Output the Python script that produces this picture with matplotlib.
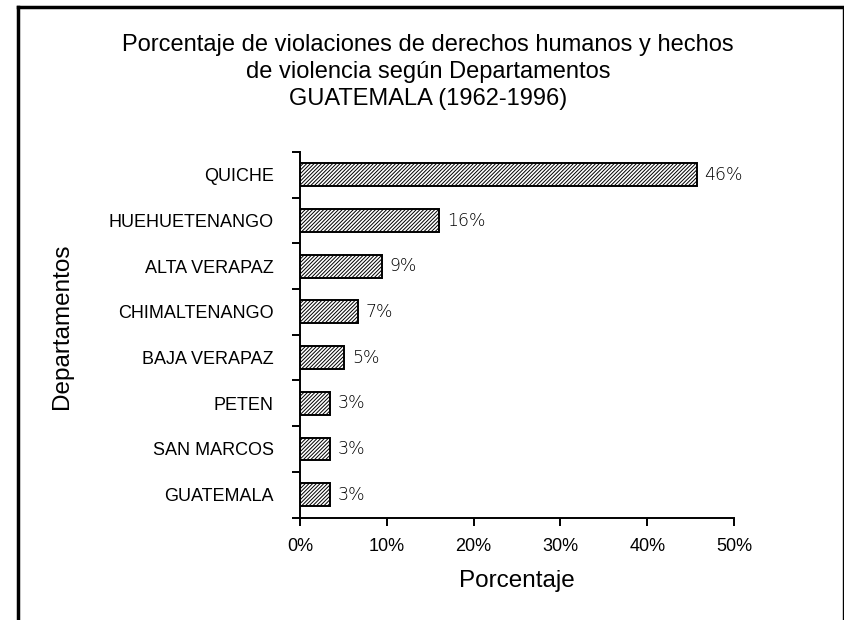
import matplotlib
matplotlib.use("Agg")
import matplotlib.pyplot as plt
from matplotlib.lines import Line2D
from matplotlib.ticker import FuncFormatter, FixedLocator

categories = ["QUICHE", "HUEHUETENANGO", "ALTA VERAPAZ", "CHIMALTENANGO",
              "BAJA VERAPAZ", "PETEN", "SAN MARCOS", "GUATEMALA"]
values = [45.7, 16.0, 9.4, 6.7, 5.1, 3.4, 3.4, 3.4]
value_labels = ["46%", "16%", "9%", "7%", "5%", "3%", "3%", "3%"]
xticks = [0, 10, 20, 30, 40, 50]

plt.rcParams['font.family'] = ['Liberation Sans', 'DejaVu Sans']
plt.rcParams['hatch.linewidth'] = 0.7

W, H = 844, 620
fig = plt.figure(figsize=(W / 100, H / 100), dpi=100)
ax = fig.add_axes([300 / W, 1 - 517.5 / H, (734 - 300) / W, (517.5 - 152) / H])

n = len(categories)
ypos = list(range(n))
ax.barh(ypos, values, height=0.5, color='white', edgecolor='black',
        linewidth=1.4, hatch='/////////')
for y, v, lab in zip(ypos, values, value_labels):
    ax.text(v + 0.9, y, lab, va='center', ha='left', fontsize=12.5,
            family=['DejaVu Sans'], fontweight='light', color='black')

ax.set_ylim(n - 0.5, -0.5)
ax.set_xlim(0, 50)
ax.set_yticks(ypos)
ax.set_yticklabels(categories, fontsize=13)
ax.yaxis.set_minor_locator(FixedLocator([i - 0.5 for i in range(n + 1)]))
ax.tick_params(axis='y', which='major', length=0, pad=19)
ax.tick_params(axis='y', which='minor', length=6, width=1.4, direction='out')
ax.set_xticks(xticks)
ax.xaxis.set_major_formatter(FuncFormatter(lambda v, p: f"{int(v)}%"))
ax.tick_params(axis='x', length=6, width=1.4, direction='out', labelsize=13, pad=9)

for s in ['top', 'right']:
    ax.spines[s].set_visible(False)
for s in ['left', 'bottom']:
    ax.spines[s].set_linewidth(1.4)

ax.set_xlabel("Porcentaje", fontsize=17.5)
ax.xaxis.set_label_coords(0.5, -(581 - 517.5) / (517.5 - 152))
ax.xaxis.label.set_va('center')
ax.set_ylabel("Departamentos", fontsize=17.5)
ax.yaxis.set_label_coords(-(300 - 62) / (734 - 300), (517.5 - 326) / (517.5 - 152))
ax.yaxis.label.set_va('center')

fig.text(428 / W, 1 - 72 / H,
         "Porcentaje de violaciones de derechos humanos y hechos\nde violencia según Departamentos\nGUATEMALA (1962-1996)",
         ha='center', va='center', fontsize=17, linespacing=1.32)

# frame
fig.add_artist(Line2D([18 / W, 18 / W], [0, 1 - 6.5 / H], transform=fig.transFigure, color='black', lw=2.5))
fig.add_artist(Line2D([18 / W, 842.5 / W], [1 - 6.5 / H, 1 - 6.5 / H], transform=fig.transFigure, color='black', lw=2.5))
fig.add_artist(Line2D([842.5 / W, 842.5 / W], [0, 1 - 6.5 / H], transform=fig.transFigure, color='black', lw=1))

fig.savefig("out.png", dpi=100)
